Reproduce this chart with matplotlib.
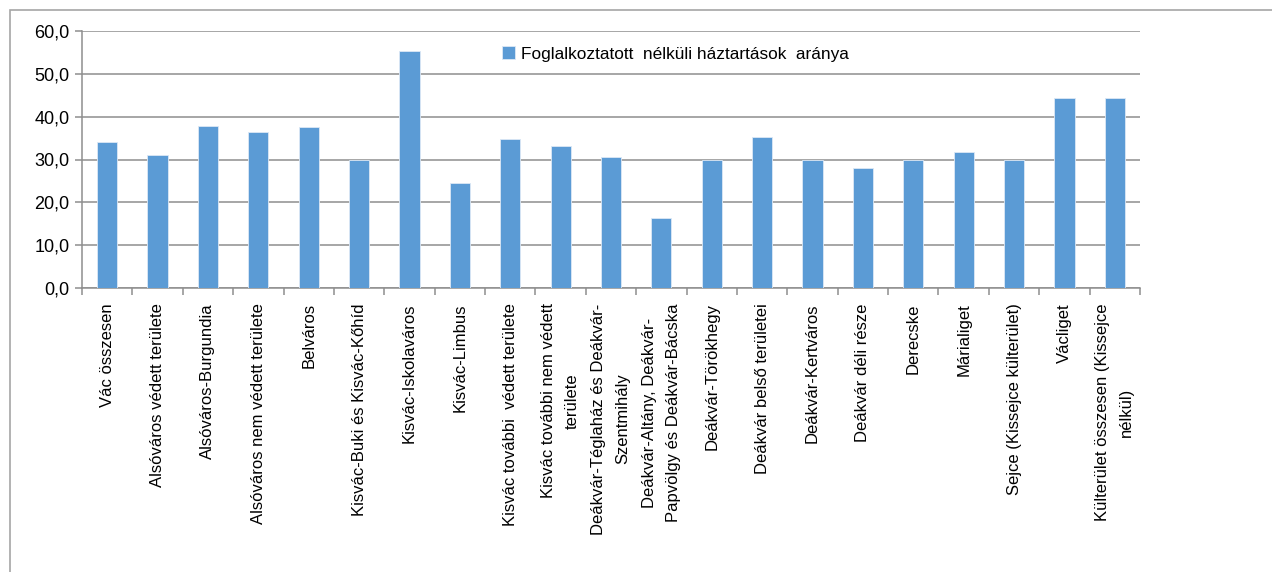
import matplotlib
matplotlib.use("Agg")
import matplotlib.pyplot as plt
from matplotlib.patches import Rectangle
from matplotlib.ticker import FixedLocator, FuncFormatter

# ── data ──────────────────────────────────────────────────────────────────────
categories = [
    "Vác összesen",
    "Alsóváros védett területe",
    "Alsóváros-Burgundia",
    "Alsóváros nem védett területe",
    "Belváros",
    "Kisvác-Buki és Kisvác-Kőhíd",
    "Kisvác-Iskolaváros",
    "Kisvác-Limbus",
    "Kisvác további  védett területe",
    "Kisvác további nem védett\nterülete",
    "Deákvár-Téglaház és Deákvár-\nSzentmihály",
    "Deákvár-Altány, Deákvár-\nPapvölgy és Deákvár-Bácska",
    "Deákvár-Törökhegy",
    "Deákvár belső területei",
    "Deákvár-Kertváros",
    "Deákvár déli része",
    "Derecske",
    "Márialiget",
    "Sejce (Kissejce külterület)",
    "Václiget",
    "Külterület összesen (Kissejce\nnélkül)",
]
values = [34.2, 31.1, 37.9, 36.5, 37.5, 29.8, 55.4, 24.4, 34.8, 33.2, 30.5,
          16.3, 30.0, 35.2, 29.8, 28.1, 29.8, 31.8, 29.8, 44.3, 44.3]
series_label = "Foglalkoztatott  nélküli háztartások  aránya"
y_ticks = [0, 10, 20, 30, 40, 50, 60]

BAR_COLOR = "#5B9BD5"
GRID_COLOR = "#8E8E8E"

plt.rcParams["font.family"] = ["Liberation Sans", "DejaVu Sans"]

fig = plt.figure(figsize=(12.72, 5.72), dpi=100)

# outer chart-area border
fig.patches.append(Rectangle((10 / 1272, -0.05), 1.2, 1 - 10 / 572 + 0.05,
                             transform=fig.transFigure, fill=False,
                             ec="#A6A6A6", lw=1.2))

ax = fig.add_axes([82 / 1272, 1 - 288 / 572, (1140 - 82) / 1272, (288 - 31) / 572])

n = len(categories)
x = list(range(n))
ax.bar(x, values, width=0.4, color=BAR_COLOR, edgecolor="#DCE8F5", lw=0.6,
       label=series_label, zorder=3)

ax.set_xlim(-0.5, n - 0.5)
ax.set_ylim(0, 60)
ax.set_yticks(y_ticks)
ax.yaxis.set_major_formatter(FuncFormatter(lambda v, _: f"{v:.1f}".replace(".", ",")))
ax.grid(axis="y", color=GRID_COLOR, lw=1.1, zorder=0)

# ticks at category boundaries, labels at centres
ax.xaxis.set_major_locator(FixedLocator([i - 0.5 for i in range(n + 1)]))
ax.xaxis.set_major_formatter(FuncFormatter(lambda v, _: ""))
ax.xaxis.set_minor_locator(FixedLocator(x))
ax.set_xticklabels(categories, minor=True, rotation=90, ha="center", va="top",
                   multialignment="center", fontsize=12, linespacing=1.75)
ax.tick_params(axis="x", which="major", length=5, color=GRID_COLOR, width=1.1)
ax.tick_params(axis="x", which="minor", length=0, pad=11)
ax.tick_params(axis="y", length=5, color=GRID_COLOR, width=1.1, labelsize=13, pad=4)

for side in ("top", "right"):
    ax.spines[side].set_visible(False)
for side in ("left", "bottom"):
    ax.spines[side].set_color(GRID_COLOR)
    ax.spines[side].set_linewidth(1.1)

ax.legend(loc="center left", bbox_to_anchor=(502 / 1272, 1 - 54 / 572),
          bbox_transform=fig.transFigure, frameon=False, fontsize=12.4,
          handlelength=0.75, handleheight=0.75, handletextpad=0.35,
          borderaxespad=0, borderpad=0)

fig.savefig("out.png", dpi=100)
